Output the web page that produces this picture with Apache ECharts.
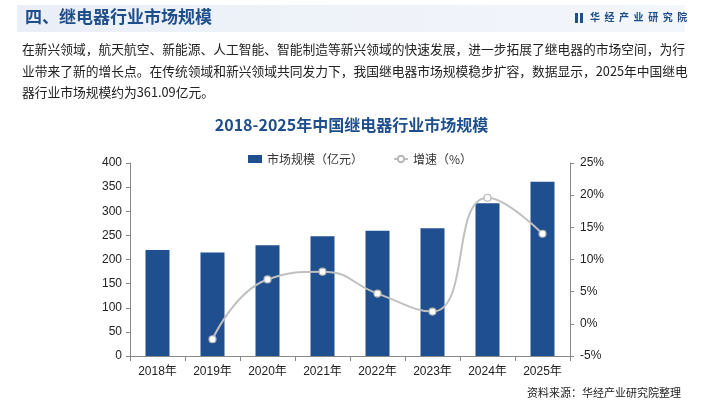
<!DOCTYPE html>
<html>
<head>
<meta charset="utf-8">
<script src="https://cdn.jsdelivr.net/npm/echarts@6/dist/echarts.min.js"></script>
<style>
html,body{margin:0;padding:0;background:#fff;}
#c{width:703px;height:401px;}
</style>
</head>
<body>
<div id="c"></div>
<script>
var categories = ['2018年','2019年','2020年','2021年','2022年','2023年','2024年','2025年'];
var marketSize = [219.9, 214.6, 229.4, 248.0, 259.7, 264.6, 316.5, 361.09];
var growthRate = [null, -2.4, 6.9, 8.1, 4.7, 1.9, 19.6, 14.0];
var leftTicks = {min: 0, max: 400, interval: 50};
var rightTicks = {min: -5, max: 25, interval: 5};
var seriesNames = ['市场规模（亿元）', '增速（%）'];
var headerTitle = '四、继电器行业市场规模';
var chartTitle = '2018-2025年中国继电器行业市场规模';
var bodyLines = [
  '在新兴领域，航天航空、新能源、人工智能、智能制造等新兴领域的快速发展，进一步拓展了继电器的市场空间，为行',
  '业带来了新的增长点。在传统领域和新兴领域共同发力下，我国继电器市场规模稳步扩容，数据显示，2025年中国继电',
  '器行业市场规模约为361.09亿元。'
];
var sourceText = '资料来源：华经产业研究院整理';
var brandText = '华  经  产  业  研  究  院';

var FF = '"Liberation Sans", "Noto Sans CJK SC", sans-serif';
var CJK = '"Noto Sans CJK SC", "Liberation Sans", sans-serif';
var blue = '#1f4e8c';

var chart = echarts.init(document.getElementById('c'), null, {renderer: 'canvas'});

var graphics = [
  {type: 'rect', shape: {x: 17, y: 5, width: 668, height: 27},
   style: {fill: new echarts.graphic.LinearGradient(0, 0, 1, 0, [{offset: 0, color: '#eaeff7'}, {offset: 1, color: '#f3f6fb'}])}, z: 0},
  {type: 'text', left: 25, top: 8, style: {text: headerTitle, fill: blue, font: 'bold 17px ' + CJK}, z: 2},
  {type: 'rect', shape: {x: 575, y: 13, width: 3, height: 10}, style: {fill: blue}, z: 2},
  {type: 'rect', shape: {x: 580, y: 13, width: 3, height: 10}, style: {fill: blue}, z: 2},
  {type: 'text', left: 590, top: 12, style: {text: brandText, fill: blue, font: 'bold 10px ' + CJK}, z: 2},
  {type: 'text', right: 22, bottom: 3, style: {text: sourceText, fill: '#222', font: '11px ' + CJK}, z: 2}
];
bodyLines.forEach(function (t, i) {
  graphics.push({type: 'text', left: 22, top: 43 + i * 21.5,
    style: {text: t, fill: '#222', font: '12.75px ' + CJK}, z: 2});
});

chart.setOption({
  animation: false,
  backgroundColor: '#fff',
  graphic: graphics,
  title: {
    text: chartTitle, left: 'center', top: 112,
    textStyle: {color: blue, fontSize: 16, fontWeight: 'bold', fontFamily: CJK}
  },
  legend: {
    top: 148, left: 243, itemGap: 30, itemWidth: 14, itemHeight: 8,
    textStyle: {color: '#333', fontSize: 12, fontFamily: CJK},
    data: [
      {name: seriesNames[0], icon: 'rect'},
      {name: seriesNames[1]}
    ]
  },
  grid: {left: 130, right: 133, top: 163, bottom: 45, containLabel: false},
  xAxis: {
    type: 'category', data: categories,
    axisLine: {lineStyle: {color: '#888'}},
    axisTick: {show: true, alignWithLabel: false, length: 5, lineStyle: {color: '#888'}},
    axisLabel: {color: '#222', fontSize: 12, fontFamily: FF, margin: 10}
  },
  yAxis: [
    {type: 'value', min: leftTicks.min, max: leftTicks.max, interval: leftTicks.interval,
     axisLine: {show: true, lineStyle: {color: '#888'}},
     axisTick: {show: true, length: 4, lineStyle: {color: '#888'}},
     splitLine: {show: false},
     axisLabel: {color: '#222', fontSize: 12, fontFamily: FF, margin: 8}},
    {type: 'value', min: rightTicks.min, max: rightTicks.max, interval: rightTicks.interval,
     position: 'right',
     axisLine: {show: true, lineStyle: {color: '#888'}},
     axisTick: {show: true, length: 4, lineStyle: {color: '#888'}},
     splitLine: {show: false},
     axisLabel: {color: '#222', fontSize: 12, fontFamily: FF, margin: 10, formatter: '{value}%'}}
  ],
  series: [
    {name: seriesNames[0], type: 'bar', data: marketSize, barWidth: 24,
     itemStyle: {color: '#1f4f8f'}, z: 2},
    {name: seriesNames[1], type: 'line', yAxisIndex: 1, data: growthRate,
     smooth: 0.5, connectNulls: false,
     symbol: 'circle', symbolSize: 7, showSymbol: true,
     lineStyle: {color: '#c0c0c0', width: 2},
     itemStyle: {color: '#fff', borderColor: '#b8b8b8', borderWidth: 1.2}, z: 3}
  ]
});
</script>
</body>
</html>
